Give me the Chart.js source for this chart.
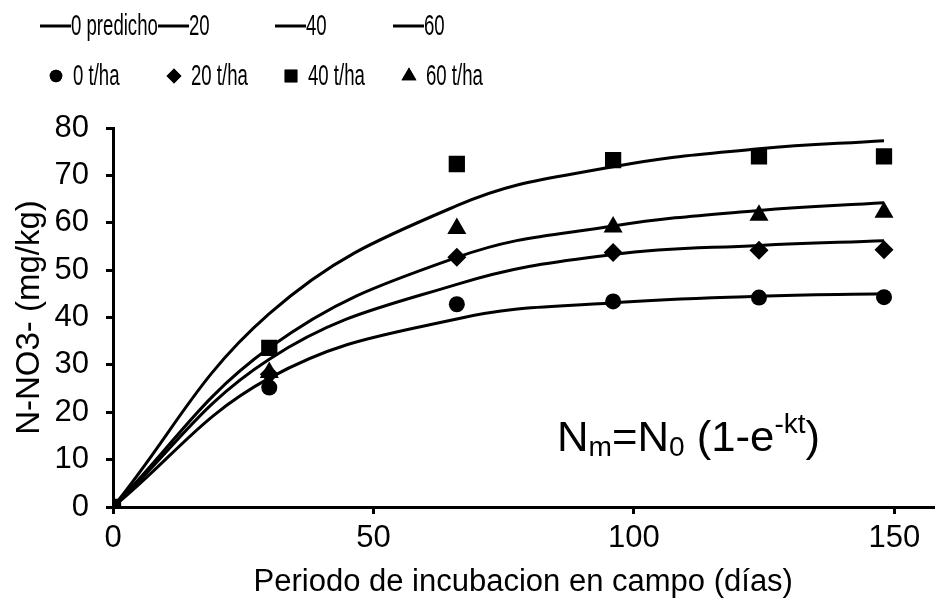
<!DOCTYPE html>
<html>
<head>
<meta charset="utf-8">
<script src="https://cdn.jsdelivr.net/npm/chart.js@4.4.1/dist/chart.umd.min.js"></script>
<style>
  html, body { margin: 0; padding: 0; background: #fff; overflow: hidden; }
  #wrap { width: 945px; height: 607px; position: relative; }
</style>
</head>
<body>
<div id="wrap"><canvas id="chart"></canvas></div>
<script>
// Incubation days at which nitrate was sampled
const days = [0, 30, 66, 96, 124, 148];

// Measured N-NO3- (mg/kg) per manure dose
const measured0 = [0, 25.2, 42.8, 43.4, 44.2, 44.3];
const measured20 = [0, 28.0, 52.7, 53.7, 54.2, 54.3];
const measured40 = [0, 33.6, 72.4, 73.2, 74.0, 74.0];
const measured60 = [0, 28.4, 58.8, 59.1, 61.6, 62.2];

// First-order model predictions, Nm = N0 (1 - e^-kt)
const predicted0 = [0, 27.2, 39.7, 43.1, 44.5, 45.0];
const predicted20 = [0, 31.2, 47.0, 53.3, 55.2, 56.2];
const predicted40 = [0, 40.8, 63.6, 71.8, 75.6, 77.3];
const predicted60 = [0, 33.6, 52.7, 59.3, 62.6, 64.2];

const lineLabels = ['0 predicho', '20', '40', '60'];
const markerLabels = ['0 t/ha', '20 t/ha', '40 t/ha', '60 t/ha'];
const markerStyles = ['circle', 'rectRot', 'rect', 'triangle'];
const markerRadius = [8, 9.5, 11.5, 11];

const xTicks = [0, 50, 100, 150];
const yTicks = [0, 10, 20, 30, 40, 50, 60, 70, 80];

const FONT = "'Liberation Sans', Arial, sans-serif";

const toXY = (ys) => days.map((d, i) => ({ x: d, y: ys[i] }));

const lineSets = [predicted0, predicted20, predicted40, predicted60].map((ys, i) => ({
  type: 'line',
  label: lineLabels[i],
  data: toXY(ys),
  borderColor: '#000',
  borderWidth: 3,
  pointRadius: 0,
  tension: 0.4,
  fill: false,
  order: 2
}));

const markerSets = [measured0, measured20, measured40, measured60].map((ys, i) => ({
  type: 'scatter',
  label: markerLabels[i],
  data: toXY(ys),
  showLine: false,
  pointStyle: markerStyles[i],
  pointRadius: markerRadius[i],
  pointBackgroundColor: '#000',
  pointBorderColor: '#000',
  pointBorderWidth: 0,
  order: 1
}));

// Narrow legend text
function condensedText(ctx, text, x, y) {
  ctx.save();
  ctx.translate(x, y);
  ctx.scale(0.62, 1);
  ctx.fillText(text, 0, 0);
  ctx.restore();
}

// Two-row legend: model lines on top, measured markers below
const legendPlugin = {
  id: 'twoRowLegend',
  afterDraw(chart) {
    const ctx = chart.ctx;
    ctx.save();
    ctx.fillStyle = '#000';
    ctx.strokeStyle = '#000';
    ctx.font = '30px ' + FONT;
    ctx.textBaseline = 'middle';
    ctx.textAlign = 'left';
    const colX = [40, 158, 275, 393];
    const row1 = 26, row2 = 76;
    lineSets.forEach((ds, i) => {
      ctx.lineWidth = 3;
      ctx.beginPath();
      ctx.moveTo(colX[i], row1);
      ctx.lineTo(colX[i] + 31, row1);
      ctx.stroke();
      condensedText(ctx, ds.label, colX[i] + 31, row1 + 1);
    });
    markerSets.forEach((ds, i) => {
      const cx = colX[i] + 16;
      Chart.helpers.drawPoint(ctx, {
        pointStyle: ds.pointStyle,
        radius: ds.pointRadius * 0.78,
        borderWidth: 0,
        rotation: 0
      }, cx, row2);
      ctx.fill();
      condensedText(ctx, ds.label, cx + 17, row2 + 1);
    });
    ctx.restore();
  }
};

// Model equation written inside the plot
const equationPlugin = {
  id: 'equation',
  afterDraw(chart) {
    const ctx = chart.ctx;
    ctx.save();
    ctx.fillStyle = '#000';
    ctx.textBaseline = 'alphabetic';
    ctx.textAlign = 'left';
    const big = '42px ' + FONT, small = '27px ' + FONT;
    let x = 557;
    const base = 451;
    const parts = [
      ['N', big, 0], ['m', small, 5], ['=N', big, 0], ['0', small, 5],
      [' (1-e', big, 0], ['-kt', small, -18], [')', big, 0]
    ];
    ctx.translate(x, 0);
    ctx.scale(1.04, 1);
    x = 0;
    parts.forEach(([t, f, dy]) => {
      ctx.font = f;
      ctx.fillText(t, x, base + dy);
      x += ctx.measureText(t).width;
    });
    ctx.restore();
  }
};

new Chart(document.getElementById('chart'), {
  data: { datasets: [...markerSets, ...lineSets] },
  options: {
    responsive: true,
    maintainAspectRatio: false,
    animation: false,
    layout: { padding: { top: 128, right: 0, left: 0, bottom: 0 } },
    plugins: {
      legend: { display: false },
      tooltip: { enabled: false }
    },
    scales: {
      x: {
        type: 'linear',
        min: 0,
        max: 157.5,
        afterBuildTicks: (axis) => { axis.ticks = xTicks.map(v => ({ value: v })); },
        afterFit: (axis) => { axis.height = 100; axis.paddingRight = 0; axis.paddingLeft = 0; },
        ticks: { color: '#000', font: { family: FONT, size: 31 }, padding: 6, maxRotation: 0 },
        grid: { drawOnChartArea: false, color: '#000', lineWidth: 3, tickLength: 7 },
        border: { color: '#000', width: 3 },
        title: {
          display: true,
          text: 'Periodo de incubacion en campo (días)',
          color: '#000',
          font: { family: FONT, size: 31 },
          padding: { top: 0, bottom: 6 }
        }
      },
      y: {
        min: 0,
        max: 80,
        afterBuildTicks: (axis) => { axis.ticks = yTicks.map(v => ({ value: v })); },
        afterFit: (axis) => { axis.width = 113; axis.paddingTop = 0; axis.paddingBottom = 0; },
        ticks: { color: '#000', font: { family: FONT, size: 31 }, padding: 17 },
        grid: { drawOnChartArea: false, color: '#000', lineWidth: 3, tickLength: 7 },
        border: { color: '#000', width: 3 },
        title: {
          display: true,
          text: 'N-NO3- (mg/kg)',
          color: '#000',
          font: { family: FONT, size: 33 },
          padding: { top: 10, bottom: 0 }
        }
      }
    }
  },
  plugins: [legendPlugin, equationPlugin]
});
</script>
</body>
</html>
